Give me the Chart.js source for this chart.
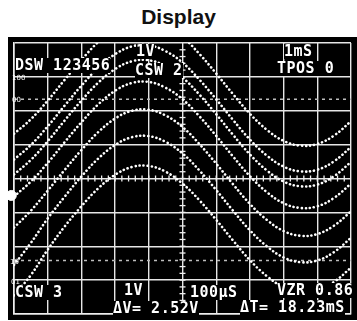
<!DOCTYPE html>
<html>
<head>
<meta charset="utf-8">
<script src="https://cdn.jsdelivr.net/npm/chart.js@4.4.1/dist/chart.umd.min.js"></script>
<style>
body { margin: 0; background: #fff; width: 357px; height: 321px; overflow: hidden; position: relative; font-family: "Liberation Sans", Arial, sans-serif; }
#titulo { position: absolute; left: 0; top: 5px; width: 357px; text-align: center; font-weight: bold; font-size: 21px; color: #111; }
#pantalla { position: absolute; left: 8px; top: 37px; width: 349px; height: 283px; background: #000; }
.t { position: absolute; color: #fff; font-family: "DejaVu Sans Mono", monospace; font-weight: bold; font-size: 15px; line-height: 1; letter-spacing: 0.5px; background: #000; white-space: pre; }
.m { position: absolute; color: #fff; font-family: "DejaVu Sans", sans-serif; font-size: 7px; line-height: 1; }
</style>
</head>
<body>
<div id="titulo">Display</div>
<div id="pantalla"><canvas id="osc" width="349" height="283"></canvas></div>

<span class="t" style="left:15px;top:58px">DSW 123456</span>
<span class="t" style="left:136px;top:44px">1V</span>
<span class="t" style="left:135px;top:63px">CSW 2</span>
<span class="t" style="left:284px;top:44px">1mS</span>
<span class="t" style="left:277px;top:61px">TPOS 0</span>
<span class="t" style="left:15px;top:285px">CSW 3</span>
<span class="t" style="left:124px;top:283px">1V</span>
<span class="t" style="left:190px;top:285px">100μS</span>
<span class="t" style="left:277px;top:283px">VZR 0.86</span>
<span class="t" style="left:113px;top:301px">ΔV= 2.52V</span>
<span class="t" style="left:240px;top:300px">ΔT= 18.23mS</span>
<span class="m" style="left:12px;top:75px">100</span>
<span class="m" style="left:12px;top:97px">00</span>
<span class="m" style="left:10px;top:259px">10</span>
<span class="m" style="left:11px;top:279px">01</span>

<script>
// posiciones horizontales (divisiones)
const divisiones = [0, 0.5, 1, 1.5, 2, 2.5, 3, 3.5, 4, 4.5, 5, 5.5, 6, 6.5, 7, 7.5, 8, 8.5, 9, 9.5, 10];

// formas de onda guardadas (V, 1V/div)
const onda1 = [1.32, 1.75, 2.30, 2.91, 3.50, 4.03, 4.43, 4.66, 4.69, 4.52, 4.18, 3.68, 3.10, 2.49, 1.91, 1.44, 1.11, 0.97, 1.02, 1.27, 1.69];
const onda2 = [0.56, 0.99, 1.54, 2.15, 2.74, 3.27, 3.67, 3.90, 3.93, 3.76, 3.42, 2.92, 2.34, 1.73, 1.15, 0.68, 0.35, 0.21, 0.26, 0.51, 0.93];
const onda3 = [0.12, 0.55, 1.10, 1.71, 2.30, 2.83, 3.23, 3.46, 3.49, 3.32, 2.98, 2.48, 1.90, 1.29, 0.71, 0.24, -0.09, -0.23, -0.18, 0.07, 0.49];
const onda4 = [-0.53, -0.09, 0.46, 1.07, 1.66, 2.19, 2.59, 2.82, 2.85, 2.68, 2.34, 1.84, 1.26, 0.65, 0.07, -0.40, -0.73, -0.87, -0.82, -0.57, -0.15];
const onda5 = [-1.45, -0.95, -0.36, 0.25, 0.84, 1.37, 1.77, 2.00, 2.03, 1.86, 1.52, 1.02, 0.44, -0.17, -0.75, -1.22, -1.55, -1.69, -1.64, -1.39, -0.97];
const onda6 = [-2.55, -1.90, -1.18, -0.54, 0.06, 0.59, 0.99, 1.22, 1.25, 1.08, 0.74, 0.24, -0.34, -0.95, -1.53, -2.00, -2.33, -2.47, -2.42, -2.17, -1.75];
const onda7 = [-3.45, -2.85, -2.10, -1.42, -0.82, -0.29, 0.11, 0.34, 0.37, 0.20, -0.15, -0.64, -1.22, -1.83, -2.41, -2.88, -3.21, -3.35, -3.30, -3.05, -2.63];

// cursores de tension
const cursores = [2.34, -2.42];
// marcador de tierra
const tierra = [{ x: -0.08, y: -0.5 }];

const ondas = [onda1, onda2, onda3, onda4, onda5, onda6, onda7];

const datasets = [];

ondas.forEach(onda => {
    datasets.push({
        data: divisiones.map((x, i) => ({ x: x, y: onda[i] })),
        borderColor: "#fff",
        borderWidth: 2.6,
        borderDash: [0.1, 4],
        borderCapStyle: "round",
        pointRadius: 0,
        tension: 0.4,
        fill: false
    });
});

cursores.forEach(v => {
    datasets.push({
        data: [{ x: 0, y: v }, { x: 10, y: v }],
        borderColor: "#bdbdbd",
        borderWidth: 1.5,
        borderDash: [3, 4],
        pointRadius: 0,
        fill: false
    });
});

// subdivisiones del reticulo central
const marcasX = [];
const marcasY = [];
for (let i = 1; i < 50; i++) marcasX.push({ x: i / 5, y: 0 });
for (let j = -19; j < 20; j++) marcasY.push({ x: 5, y: j / 5 });

datasets.push({
    data: marcasX, showLine: false, pointStyle: "line", rotation: 90,
    pointRadius: 3, borderColor: "#eee", borderWidth: 1.3
});
datasets.push({
    data: marcasY, showLine: false, pointStyle: "line", rotation: 0,
    pointRadius: 3, borderColor: "#eee", borderWidth: 1.3
});
datasets.push({
    data: tierra, showLine: false, pointRadius: 5, backgroundColor: "#fff",
    borderColor: "#fff", clip: false
});

new Chart(document.getElementById("osc").getContext("2d"), {
    type: "line",
    data: { datasets: datasets },
    options: {
        responsive: false,
        animation: false,
        layout: { padding: { left: 5, top: 6, right: 2, bottom: 3 } },
        plugins: { legend: { display: false }, tooltip: { enabled: false } },
        scales: {
            x: {
                type: "linear", min: 0, max: 10,
                ticks: { display: false, stepSize: 1 },
                grid: { color: "#e6e6e6", lineWidth: 1.4, drawTicks: false },
                border: { color: "#eee", width: 1.6 }
            },
            y: {
                type: "linear", min: -4, max: 4,
                ticks: { display: false, stepSize: 1 },
                grid: { color: "#e6e6e6", lineWidth: 1.4, drawTicks: false },
                border: { color: "#eee", width: 1.6 }
            }
        }
    }
});
</script>
</body>
</html>
